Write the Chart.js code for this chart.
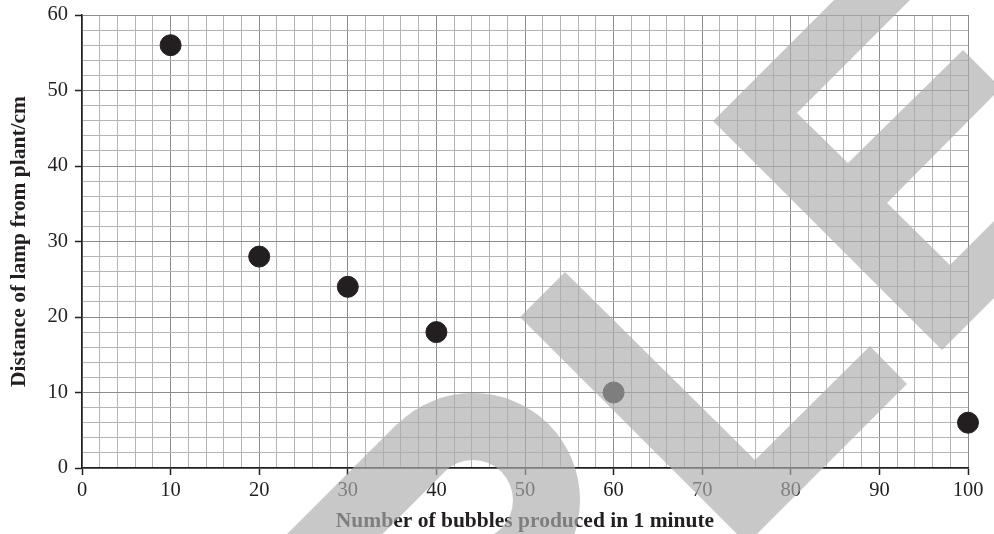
<!DOCTYPE html>
<html>
<head>
<meta charset="utf-8">
<script src="https://cdn.jsdelivr.net/npm/chart.js@4"></script>
<style>
  html, body { margin: 0; padding: 0; background: #fff; }
  #wrap { width: 994px; height: 534px; }
</style>
</head>
<body>
<div id="wrap"><canvas id="myChart"></canvas></div>
<script>
const bubbles = [10, 20, 30, 40, 60, 100]
const distance = [56, 28, 24, 18, 10, 6]
const xTitle = 'Number of bubbles produced in 1 minute'
const yTitle = 'Distance of lamp from plant/cm'

const serif = '"Liberation Serif", "Times New Roman", Times, serif'
const ink = '#231f20'

const gridColor = (c) => (c.tick && c.tick.value % 10 === 0) ? '#8c8c8c' : '#b4b4b4'
const tickMark = (c) => (c.tick && c.tick.value % 10 === 0) ? ink : 'rgba(0,0,0,0)'

// grey "SAMPLE" stamp laid over the printed chart
const stamp = {
  id: 'stamp',
  afterDraw(chart) {
    const ctx = chart.ctx
    ctx.save()
    ctx.fillStyle = 'rgba(173,173,173,0.67)'

    // curved stroke at the bottom
    ctx.beginPath()
    ctx.moveTo(97, 724)
    ctx.lineTo(397, 424)
    ctx.arc(473, 500, 107, Math.PI * 1.25, Math.PI * 2.5, false)
    ctx.arc(473, 500, 40, Math.PI * 2.5, Math.PI * 1.25, true)
    ctx.lineTo(145, 772)
    ctx.closePath()
    ctx.fill()

    // V shape
    ctx.beginPath()
    ctx.moveTo(520, 317)
    ctx.lineTo(565, 272)
    ctx.lineTo(755, 460)
    ctx.lineTo(870, 346)
    ctx.lineTo(907, 384)
    ctx.lineTo(747, 544)
    ctx.closePath()
    ctx.fill()

    // E shape top right
    ctx.beginPath()
    ctx.moveTo(713, 121)
    ctx.lineTo(837, -3)
    ctx.lineTo(913, -3)
    ctx.lineTo(797, 113)
    ctx.lineTo(848, 163)
    ctx.lineTo(963, 50)
    ctx.lineTo(1001, 88)
    ctx.lineTo(887, 203)
    ctx.lineTo(950, 265)
    ctx.lineTo(1050, 165)
    ctx.lineTo(1050, 242)
    ctx.lineTo(942, 350)
    ctx.closePath()
    ctx.fill()

    ctx.restore()
  }
}

const ctx = document.getElementById('myChart')

new Chart(ctx, {
  type: 'scatter',
  data: {
    datasets: [{
      data: bubbles.map((b, i) => ({ x: b, y: distance[i] })),
      backgroundColor: ink,
      borderColor: ink,
      pointRadius: 10.5,
      pointHoverRadius: 10.5,
      clip: false
    }]
  },
  options: {
    responsive: true,
    maintainAspectRatio: false,
    animation: false,
    layout: { padding: { left: 0, right: 26, top: 15, bottom: 0 } },
    plugins: {
      legend: { display: false },
      tooltip: { enabled: false }
    },
    scales: {
      x: {
        type: 'linear',
        min: 0,
        max: 100,
        afterFit: (s) => { s.height = 66 },
        border: { color: ink, width: 1.5 },
        grid: { color: gridColor, lineWidth: 1, tickLength: 7, tickColor: tickMark, tickWidth: 1.5 },
        ticks: {
          stepSize: 2,
          autoSkip: false,
          maxRotation: 0,
          padding: 5,
          color: ink,
          font: { family: serif, size: 20.5, lineHeight: 1 },
          callback: (v) => v % 10 === 0 ? v : ''
        },
        title: {
          display: true,
          text: xTitle,
          color: ink,
          padding: { top: 0, bottom: 0 },
          font: { family: serif, size: 21.5, weight: 'bold' }
        }
      },
      y: {
        type: 'linear',
        min: 0,
        max: 60,
        afterFit: (s) => { s.width = 82; s.paddingTop = 0; s.paddingBottom = 0 },
        border: { color: ink, width: 1.5 },
        grid: { color: gridColor, lineWidth: 1, tickLength: 7, tickColor: tickMark, tickWidth: 1.5 },
        ticks: {
          stepSize: 2,
          autoSkip: false,
          padding: 7,
          color: ink,
          font: { family: serif, size: 20.5, lineHeight: 1 },
          callback: (v) => v % 10 === 0 ? v : ''
        },
        title: {
          display: true,
          text: yTitle,
          color: ink,
          padding: { top: 7, bottom: 0 },
          font: { family: serif, size: 21.5, weight: 'bold' }
        }
      }
    }
  },
  plugins: [stamp]
})
</script>
</body>
</html>
